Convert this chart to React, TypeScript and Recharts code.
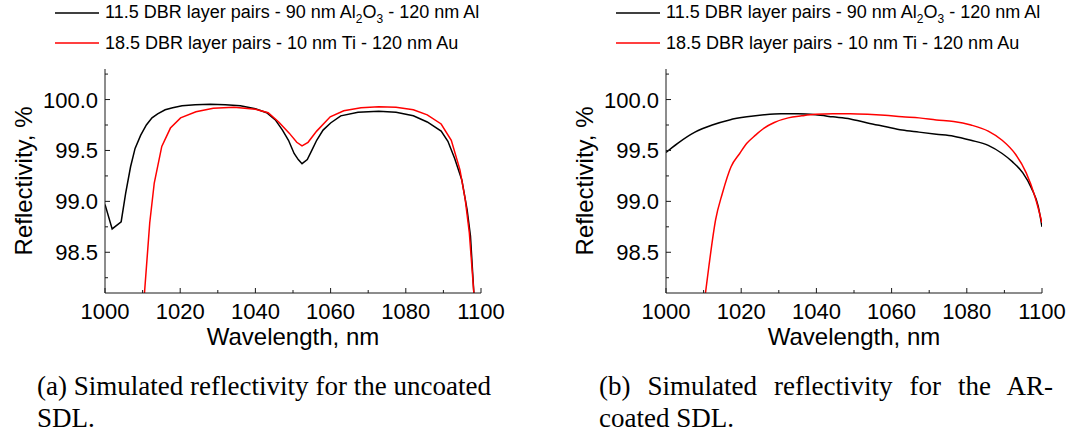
import { LineChart, Line, XAxis, YAxis, Legend } from "recharts"

// axis ticks and ranges
const X_TICKS = [1000, 1010, 1020, 1030, 1040, 1050, 1060, 1070, 1080, 1090, 1100]
const Y_TICKS = [98.25, 98.5, 98.75, 99, 99.25, 99.5, 99.75, 100, 100.25]
const X_DOMAIN = [1000, 1100]
const Y_DOMAIN = [98.1, 100.3]

const SERIES_NAMES = [
  "11.5 DBR layer pairs - 90 nm Al2O3 - 120 nm Al",
  "18.5 DBR layer pairs - 10 nm Ti - 120 nm Au",
]
const SERIES_COLORS = ["#000000", "#ff0000"]

// (a) uncoated SDL
const uncoatedAlWl = [1000, 1001.9, 1004.3, 1005.5, 1006.8, 1008, 1009.5, 1011, 1012.5, 1014, 1016, 1018, 1020.5, 1024, 1028, 1032, 1036, 1040, 1043, 1045.3, 1047.2, 1048.8, 1050.3, 1051.4, 1052.4, 1053.8, 1055, 1056.3, 1058, 1060, 1062.7, 1067.3, 1072.8, 1077.4, 1082, 1085.7, 1089.4, 1091.2, 1093, 1094.9, 1096.3, 1097.2, 1098.1, 1099]
const uncoatedAlR = [98.97, 98.73, 98.8, 99.08, 99.34, 99.52, 99.65, 99.75, 99.82, 99.86, 99.9, 99.92, 99.94, 99.95, 99.955, 99.95, 99.94, 99.91, 99.87, 99.8, 99.7, 99.6, 99.47, 99.41, 99.37, 99.41, 99.5, 99.6, 99.7, 99.77, 99.84, 99.875, 99.885, 99.875, 99.84, 99.78, 99.69, 99.59, 99.42, 99.21, 98.92, 98.66, 98.1, 97.4]
const uncoatedAuWl = [1010, 1010.5, 1011.9, 1013.1, 1015.1, 1017.4, 1020.1, 1024.2, 1028.8, 1034.3, 1040, 1043.4, 1046.2, 1049, 1051, 1052.4, 1054, 1056.3, 1059.9, 1063.5, 1068.1, 1072.8, 1077.4, 1082, 1085.7, 1089.4, 1092.1, 1094.4, 1095.8, 1096.9, 1098.1, 1099]
const uncoatedAuR = [97.8, 98.1, 98.79, 99.18, 99.54, 99.72, 99.82, 99.88, 99.915, 99.925, 99.905, 99.87, 99.78, 99.67, 99.58, 99.545, 99.58, 99.69, 99.83, 99.89, 99.92, 99.93, 99.925, 99.9, 99.85, 99.76, 99.6, 99.31, 99.02, 98.69, 98.1, 97.4]

// (b) AR-coated SDL
const coatedAlWl = [1000, 1003.1, 1007.7, 1012.3, 1016.9, 1021.5, 1026.1, 1030.6, 1035.2, 1039.8, 1044.4, 1049, 1053.6, 1058.2, 1062.8, 1067.3, 1071.9, 1076.5, 1081.1, 1085.7, 1089.4, 1092.1, 1094.9, 1097.2, 1099, 1100]
const coatedAlR = [99.48, 99.57, 99.68, 99.75, 99.8, 99.83, 99.85, 99.86, 99.86, 99.85, 99.83, 99.81, 99.77, 99.735, 99.7, 99.68, 99.66, 99.64, 99.6, 99.55, 99.47, 99.39, 99.28, 99.13, 98.95, 98.75]
const coatedAuWl = [1009.5, 1010.5, 1011.4, 1013.2, 1015, 1017.3, 1019.6, 1021.5, 1023.8, 1026.1, 1028.8, 1032.5, 1036.1, 1039.8, 1044.4, 1049, 1053.6, 1058.2, 1062.8, 1067.3, 1071.9, 1076.5, 1081.1, 1085.7, 1089.4, 1093, 1095.8, 1098.1, 1100]
const coatedAuR = [97.8, 98.1, 98.36, 98.82, 99.08, 99.34, 99.47, 99.57, 99.65, 99.72, 99.775, 99.82, 99.84, 99.855, 99.86, 99.86, 99.855, 99.845, 99.83, 99.82, 99.8, 99.785, 99.75, 99.69, 99.6, 99.46, 99.28, 99.05, 98.79]

const toPoints = (wl: number[], r: number[]) => wl.map((w, i) => ({ wl: w, r: r[i] }))

const FRAME = "#1a1a1a"
const SANS = "'Liberation Sans', Arial, sans-serif"
const tickText = { fontFamily: SANS, fontSize: 22, fill: "#000" }

const isMajorX = (v: number) => v % 20 === 0
const isMajorY = (v: number) => Math.abs(v * 2 - Math.round(v * 2)) < 1e-6

function BottomTick(props: any) {
  const { x, y, payload } = props
  const major = isMajorX(payload.value)
  return (
    <g>
      <line x1={x} x2={x} y1={y} y2={y - (major ? 5 : 3)} stroke={FRAME} />
      {major && (
        <text x={x} y={y + 26} textAnchor="middle" {...tickText}>
          {payload.value}
        </text>
      )}
    </g>
  )
}

function TopTick(props: any) {
  const { x, y, payload } = props
  const major = isMajorX(payload.value)
  return <line x1={x} x2={x} y1={y} y2={y + (major ? 5 : 3)} stroke={FRAME} />
}

function LeftTick(props: any) {
  const { x, y, payload } = props
  const major = isMajorY(payload.value)
  return (
    <g>
      <line x1={x} x2={x + (major ? 5 : 3)} y1={y} y2={y} stroke={FRAME} />
      {major && (
        <text x={x - 7} y={y + 8} textAnchor="end" {...tickText}>
          {payload.value.toFixed(1)}
        </text>
      )}
    </g>
  )
}

function RightTick(props: any) {
  const { x, y, payload } = props
  const major = isMajorY(payload.value)
  return <line x1={x} x2={x - (major ? 5 : 3)} y1={y} y2={y} stroke={FRAME} />
}

function XTitle(props: any) {
  const vb = props.viewBox
  return (
    <text x={vb.x + vb.width / 2} y={vb.y + 52} textAnchor="middle" fontFamily={SANS} fontSize={24} fill="#000">
      Wavelength, nm
    </text>
  )
}

function YTitle(props: any) {
  const vb = props.viewBox
  const cx = vb.x + 23
  const cy = vb.y + vb.height / 2
  return (
    <text
      x={cx}
      y={cy}
      transform={`rotate(-90, ${cx}, ${cy})`}
      textAnchor="middle"
      dominantBaseline="central"
      fontFamily={SANS}
      fontSize={24}
      fill="#000"
    >
      Reflectivity, %
    </text>
  )
}

// Al2O3 -> Al<sub>2</sub>O<sub>3</sub>
function chem(name: string) {
  const parts = name.split(/([A-Z][a-z]?\d)/)
  return parts.map((p, i) => {
    const m = p.match(/^([A-Z][a-z]?)(\d)$/)
    if (!m) return <span key={i}>{p}</span>
    return (
      <span key={i}>
        {m[1]}
        <span style={{ fontSize: 12, position: "relative", top: 5 }}>{m[2]}</span>
      </span>
    )
  })
}

function LegendBox(props: any) {
  const { payload } = props
  return (
    <div>
      {(payload || []).map((entry: any) => (
        <div key={entry.value} style={{ display: "flex", alignItems: "center", height: 30, lineHeight: "30px" }}>
          <svg width={44} height={4} style={{ marginRight: 6 }}>
            <line x1={0} x2={44} y1={2} y2={2} stroke={entry.color} strokeWidth={1.5} />
          </svg>
          <span style={{ fontFamily: SANS, fontSize: 18, color: "#000", whiteSpace: "nowrap" }}>{chem(entry.value)}</span>
        </div>
      ))}
    </div>
  )
}

function Panel({ left, alData, auData, curve }: { left: number; alData: any[]; auData: any[]; curve: "linear" | "monotone" }) {
  return (
    <div style={{ position: "absolute", left, top: 0 }}>
      <LineChart width={540} height={360} margin={{ top: 69, right: 59, bottom: 0, left: 0 }}>
        <XAxis
          type="number"
          dataKey="wl"
          domain={X_DOMAIN}
          ticks={X_TICKS}
          interval={0}
          allowDataOverflow
          height={67}
          tickSize={0}
          tickMargin={0}
          tickLine={false}
          axisLine={{ stroke: FRAME }}
          tick={BottomTick}
          label={<XTitle />}
        />
        <XAxis
          xAxisId="top"
          orientation="top"
          type="number"
          dataKey="wl"
          domain={X_DOMAIN}
          ticks={X_TICKS}
          interval={0}
          allowDataOverflow
          height={0}
          tickSize={0}
          tickMargin={0}
          tickLine={false}
          axisLine={{ stroke: FRAME }}
          tick={TopTick}
        />
        <YAxis
          type="number"
          domain={Y_DOMAIN}
          ticks={Y_TICKS}
          interval={0}
          allowDataOverflow
          width={105}
          tickSize={0}
          tickMargin={0}
          tickLine={false}
          axisLine={{ stroke: FRAME }}
          tick={LeftTick}
          label={<YTitle />}
        />
        <YAxis
          yAxisId="right"
          orientation="right"
          type="number"
          domain={Y_DOMAIN}
          ticks={Y_TICKS}
          interval={0}
          allowDataOverflow
          width={0}
          tickSize={0}
          tickMargin={0}
          tickLine={false}
          axisLine={{ stroke: FRAME }}
          tick={RightTick}
        />
        <Legend
          layout="vertical"
          align="center"
          verticalAlign="middle"
          wrapperStyle={{ left: 55, top: -2, width: "auto" }}
          content={<LegendBox />}
        />
        <Line
          data={alData}
          dataKey="r"
          name={SERIES_NAMES[0]}
          type={curve}
          stroke={SERIES_COLORS[0]}
          strokeWidth={1.5}
          dot={false}
          isAnimationActive={false}
        />
        <Line
          data={auData}
          dataKey="r"
          name={SERIES_NAMES[1]}
          type={curve}
          stroke={SERIES_COLORS[1]}
          strokeWidth={1.5}
          dot={false}
          isAnimationActive={false}
        />
      </LineChart>
    </div>
  )
}

const captionStyle = {
  position: "absolute" as const,
  width: 454,
  fontFamily: "'Liberation Serif', 'Times New Roman', serif",
  fontSize: 27,
  lineHeight: "32px",
  color: "#000",
}

export default function App() {
  return (
    <div style={{ position: "relative", width: 1080, height: 443, background: "#fff", overflow: "hidden" }}>
      <style>{`body { margin: 0; }`}</style>
      <Panel left={0} curve="linear" alData={toPoints(uncoatedAlWl, uncoatedAlR)} auData={toPoints(uncoatedAuWl, uncoatedAuR)} />
      <Panel left={561} curve="monotone" alData={toPoints(coatedAlWl, coatedAlR)} auData={toPoints(coatedAuWl, coatedAuR)} />
      <div style={{ ...captionStyle, left: 37, top: 370 }}>
        <div style={{ textAlign: "justify", textAlignLast: "justify" }}>(a) Simulated reflectivity for the uncoated</div>
        <div>SDL.</div>
      </div>
      <div style={{ ...captionStyle, left: 599, top: 370 }}>
        <div style={{ textAlign: "justify", textAlignLast: "justify" }}>(b) Simulated reflectivity for the AR-</div>
        <div>coated SDL.</div>
      </div>
    </div>
  )
}
